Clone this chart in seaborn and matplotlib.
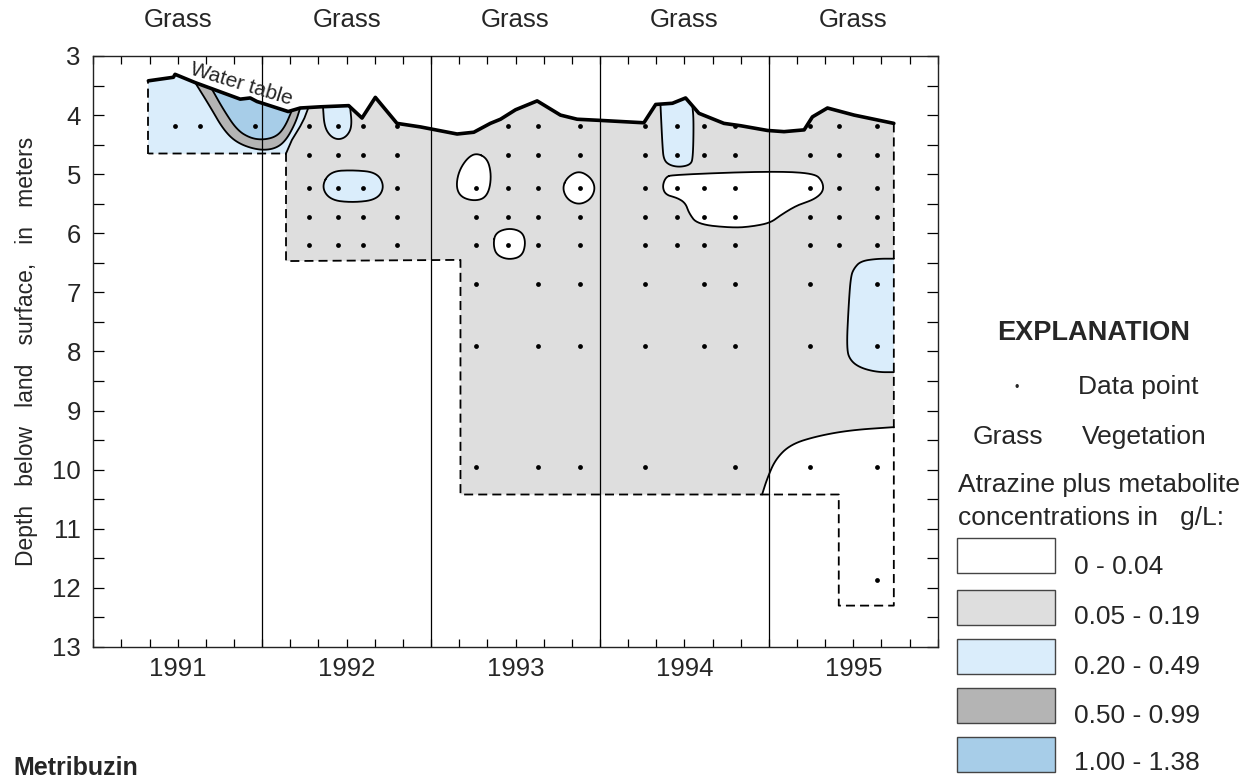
import numpy as np
import pandas as pd
import matplotlib
matplotlib.use("Agg")
import matplotlib.pyplot as plt
from matplotlib.patches import Rectangle
from matplotlib.ticker import MultipleLocator
import seaborn as sns

# ---------------------------------------------------------------- data
years = [1991, 1992, 1993, 1994, 1995]
vegetation = ["Grass", "Grass", "Grass", "Grass", "Grass"]

# sampling depths (m) and, per sampling column (decimal year), the rows sampled
row_depths = [4.19, 4.67, 5.24, 5.72, 6.19, 6.86, 7.90, 9.95, 11.87]
sample_columns = [
    (1991.484, [0]), (1991.632, [0]), (1991.958, [0]),
    (1992.279, [0, 1, 2, 3, 4]), (1992.451, [0, 1, 2, 3, 4]),
    (1992.599, [0, 1, 2, 3, 4]), (1992.800, [0, 1, 2, 3, 4]),
    (1993.267, [2, 3, 4, 5, 6, 7]), (1993.456, [0, 1, 2, 3, 4]),
    (1993.634, [0, 1, 2, 3, 4, 5, 6, 7]), (1993.881, [0, 1, 2, 3, 4, 5, 6, 7]),
    (1994.266, [0, 1, 2, 3, 4, 5, 6, 7]), (1994.458, [0, 1, 2, 3, 4]),
    (1994.618, [0, 1, 2, 3, 4, 5, 6]), (1994.800, [0, 1, 2, 3, 4, 5, 6, 7]),
    (1995.242, [0, 1, 2, 3, 4, 5, 6, 7]), (1995.414, [0, 1, 2, 3, 4]),
    (1995.640, [0, 1, 2, 3, 4, 5, 6, 7, 8]),
]

# water table depth through time
wt_year = [1991.326, 1991.474, 1991.484, 1991.603, 1991.870, 1991.929, 1991.969,
           1992.154, 1992.225, 1992.344, 1992.512, 1992.591, 1992.670, 1992.798,
           1992.937, 1993.154, 1993.253, 1993.351, 1993.411, 1993.500, 1993.628,
           1993.766, 1993.865, 1994.004, 1994.260, 1994.330, 1994.429, 1994.507,
           1994.586, 1994.734, 1994.833, 1994.992, 1995.090, 1995.209, 1995.258,
           1995.347, 1995.505, 1995.740]
wt_depth = [3.42, 3.36, 3.31, 3.45, 3.73, 3.71, 3.77,
            3.94, 3.88, 3.86, 3.84, 4.05, 3.70, 4.14,
            4.20, 4.32, 4.29, 4.14, 4.07, 3.91, 3.76,
            4.00, 4.07, 4.09, 4.13, 3.82, 3.80, 3.71,
            3.97, 4.14, 4.18, 4.26, 4.28, 4.25, 4.03,
            3.88, 4.00, 4.14]

# limits of the sampled section (below the water table), from the right end of
# the water table round to its left end
sampled_year = [1995.740, 1995.740, 1995.414, 1995.414, 1993.174, 1993.174, 1992.141, 1992.141, 1991.326]
sampled_depth = [4.14, 12.30, 12.30, 10.42, 10.42, 6.45, 6.47, 4.65, 4.65]

# concentration contours (decimal year, depth)
blue91_edge_year = [1992.274, 1992.250, 1992.225, 1992.176, 1992.141]
blue91_edge_depth = [3.87, 4.05, 4.19, 4.42, 4.65]

mid91_year = [1991.603, 1991.692, 1991.771, 1991.850, 1991.969, 1992.067, 1992.136, 1992.196, 1992.225]
mid91_depth = [3.45, 3.86, 4.25, 4.47, 4.59, 4.58, 4.45, 4.14, 3.88]

high91_year = [1991.702, 1991.771, 1991.850, 1991.929, 1992.008, 1992.087, 1992.136, 1992.176]
high91_depth = [3.56, 3.91, 4.25, 4.39, 4.42, 4.36, 4.19, 3.92]

cap92_year = [1992.360, 1992.368, 1992.403, 1992.452, 1992.502, 1992.532, 1992.520]
cap92_depth = [3.86, 4.19, 4.36, 4.42, 4.36, 4.19, 3.85]

lens92_year = [1992.350, 1992.403, 1992.541, 1992.680, 1992.725, 1992.680, 1992.541, 1992.403]
lens92_depth = [5.21, 4.95, 4.93, 4.97, 5.21, 5.43, 5.48, 5.44]

low93a_year = [1993.267, 1993.332, 1993.356, 1993.347, 1993.312, 1993.243, 1993.174, 1993.148, 1993.164, 1993.213]
low93a_depth = [4.64, 4.73, 4.98, 5.26, 5.42, 5.45, 5.38, 5.21, 4.95, 4.73]

low93b_year = [1993.777, 1993.806, 1993.875, 1993.945, 1993.974, 1993.945, 1993.875, 1993.806]
low93b_depth = [5.235, 5.05, 4.94, 5.05, 5.235, 5.43, 5.52, 5.43]

low93c_year = [1993.368, 1993.381, 1993.460, 1993.539, 1993.561, 1993.539, 1993.460, 1993.387]
low93c_depth = [6.19, 5.99, 5.91, 5.97, 6.16, 6.39, 6.45, 6.37]

cap94_year = [1994.358, 1994.370, 1994.378, 1994.414, 1994.473, 1994.535, 1994.551, 1994.555, 1994.547]
cap94_depth = [3.81, 4.53, 4.76, 4.85, 4.88, 4.84, 4.73, 4.08, 3.84]

low94_year = [1994.389, 1994.429, 1994.992, 1995.268, 1995.318, 1995.324, 1995.268, 1995.170, 1995.071,
              1995.011, 1994.912, 1994.794, 1994.577, 1994.527, 1994.507, 1994.458, 1994.389, 1994.369]
low94_depth = [5.05, 5.01, 4.95, 4.98, 5.12, 5.29, 5.43, 5.52, 5.69,
               5.82, 5.88, 5.91, 5.85, 5.66, 5.49, 5.40, 5.35, 5.21]

blue95_year = [1995.740, 1995.644, 1995.545, 1995.505, 1995.485, 1995.472, 1995.460, 1995.485, 1995.545, 1995.644, 1995.740]
blue95_depth = [6.43, 6.43, 6.47, 6.59, 6.73, 7.24, 7.97, 8.16, 8.28, 8.35, 8.35]

low95_year = [1994.960, 1994.990, 1995.040, 1995.130, 1995.288, 1995.485, 1995.740]
low95_depth = [10.42, 10.15, 9.82, 9.57, 9.43, 9.33, 9.28]
low95_tail_year = [1995.740, 1995.414, 1995.414]
low95_tail_depth = [12.30, 12.30, 10.42]

class_labels = ["0 - 0.04", "0.05 - 0.19", "0.20 - 0.49", "0.50 - 0.99", "1.00 - 1.38"]
class_colors = ["#FFFFFF", "#DEDEDE", "#DAEDFB", "#B4B4B4", "#A7CDE8"]

# ---------------------------------------------------------------- helpers
def chaikin(x, y, n=4, closed=True):
    """Corner-cutting smoothing of a contour outline."""
    p = np.column_stack([x, y]).astype(float)
    for _ in range(n):
        if closed:
            q = np.roll(p, -1, axis=0)
            r = np.empty((2 * len(p), 2))
            r[0::2] = 0.75 * p + 0.25 * q
            r[1::2] = 0.25 * p + 0.75 * q
            p = r
        else:
            a, b = p[:-1], p[1:]
            r = np.empty((2 * len(a), 2))
            r[0::2] = 0.75 * a + 0.25 * b
            r[1::2] = 0.25 * a + 0.75 * b
            p = np.vstack([p[:1], r, p[-1:]])
    return p


def water_table_between(x0, x1):
    """Vertices of the water table between two dates, in the given direction."""
    wx, wy = np.asarray(wt_year), np.asarray(wt_depth)
    lo, hi = min(x0, x1), max(x0, x1)
    xs = np.concatenate([[lo], wx[(wx > lo) & (wx < hi)], [hi]])
    pts = np.column_stack([xs, np.interp(xs, wx, wy)])
    return pts if x0 <= x1 else pts[::-1]


# ---------------------------------------------------------------- figure
sns.set_theme(style="white")
plt.rcParams["font.family"] = ["Liberation Sans", "DejaVu Sans"]

fig = plt.figure(figsize=(12.56, 7.81), dpi=100)
ax = fig.add_axes([0.0743, 0.1716, 0.6723, 0.7567])

WHITE, LOW, MIDBLUE, DARK, HIGH = class_colors
EDGE = dict(color="black", lw=1.3, solid_capstyle="round", zorder=6)
DASH = dict(color="black", lw=1.3, ls=(0, (5, 2.8)), zorder=6)

# whole sampled section
section = np.vstack([water_table_between(wt_year[0], wt_year[-1]),
                     np.column_stack([sampled_year[1:], sampled_depth[1:]])])
ax.fill(section[:, 0], section[:, 1], color=LOW, lw=0, zorder=1)

# 1991 plume
blue91 = np.vstack([water_table_between(wt_year[0], blue91_edge_year[0]),
                    np.column_stack([blue91_edge_year, blue91_edge_depth]),
                    [[sampled_year[-1], sampled_depth[-1]]]])
ax.fill(blue91[:, 0], blue91[:, 1], color=MIDBLUE, lw=0, zorder=2)
ax.plot(blue91_edge_year, blue91_edge_depth, **EDGE)

# contours that close against the water table
for xs, ys, col, z in [(mid91_year, mid91_depth, DARK, 3), (high91_year, high91_depth, HIGH, 4),
                       (cap92_year, cap92_depth, MIDBLUE, 3), (cap94_year, cap94_depth, MIDBLUE, 3)]:
    curve = chaikin(xs, ys, n=3, closed=False)
    poly = np.vstack([curve, water_table_between(xs[-1], xs[0])])
    ax.fill(poly[:, 0], poly[:, 1], color=col, lw=0, zorder=z)
    ax.plot(curve[:, 0], curve[:, 1], **EDGE)

# closed contours inside the section
for xs, ys, col in [(lens92_year, lens92_depth, MIDBLUE), (low93a_year, low93a_depth, WHITE),
                    (low93b_year, low93b_depth, WHITE), (low93c_year, low93c_depth, WHITE),
                    (low94_year, low94_depth, WHITE)]:
    ring = chaikin(xs, ys, n=4, closed=True)
    ax.fill(ring[:, 0], ring[:, 1], color=col, lw=0, zorder=3)
    ax.plot(np.append(ring[:, 0], ring[0, 0]), np.append(ring[:, 1], ring[0, 1]), **EDGE)

# contours that close against the sampling limit
curve = chaikin(blue95_year, blue95_depth, n=3, closed=False)
ax.fill(curve[:, 0], curve[:, 1], color=MIDBLUE, lw=0, zorder=3)
ax.plot(curve[:, 0], curve[:, 1], **EDGE)

curve = chaikin(low95_year, low95_depth, n=3, closed=False)
poly = np.vstack([curve, np.column_stack([low95_tail_year, low95_tail_depth])])
ax.fill(poly[:, 0], poly[:, 1], color=WHITE, lw=0, zorder=3)
ax.plot(curve[:, 0], curve[:, 1], **EDGE)

# year boundaries
for yr in years[1:]:
    ax.axvline(yr, color="black", lw=0.9, zorder=5)

# dashed limit of sampling
ax.plot(sampled_year, sampled_depth, **DASH)
ax.plot([sampled_year[-1], wt_year[0]], [sampled_depth[-1], wt_depth[0]], **DASH)

# water table
sns.lineplot(x=wt_year, y=wt_depth, sort=False, estimator=None, color="black",
             lw=2.6, ax=ax, zorder=7)

# data points
points = pd.DataFrame([(x, row_depths[i]) for x, rows in sample_columns for i in rows],
                      columns=["year", "depth"])
sns.scatterplot(data=points, x="year", y="depth", color="black", s=12, lw=0, ax=ax, zorder=8)

# ---------------------------------------------------------------- axes
ax.set_xlim(years[0], years[-1] + 1)
ax.set_ylim(13, 3)
mid_years = [y + 0.5 for y in years]
ax.set_xticks(mid_years, [str(y) for y in years])
ax.xaxis.set_minor_locator(MultipleLocator(1 / 6))
ax.yaxis.set_major_locator(MultipleLocator(1))
ax.yaxis.set_minor_locator(MultipleLocator(0.5))
ax.tick_params(axis="x", which="both", direction="in", length=5.5, width=0.9,
               top=True, bottom=True, color="black", labelsize=18.5, pad=7)
ax.tick_params(axis="y", which="both", direction="in", length=8, width=0.9,
               left=True, right=True, color="black", labelsize=18.5, pad=9)
ax.set_xlabel("")
ax.set_ylabel("Depth   below   land   surface,   in   meters", fontsize=16.5)
ax.yaxis.set_label_coords(-0.066, 0.5)
for sp in ax.spines.values():
    sp.set_color("#222222")
    sp.set_linewidth(1.0)

top = ax.secondary_xaxis("top")
top.set_xticks(mid_years, vegetation)
top.tick_params(length=0, labelsize=18.5, pad=17)
top.spines["top"].set_visible(False)

ax.text(1991.876, 3.47, "Water table", rotation=-17, fontsize=15,
        ha="center", va="center", zorder=9)

# ---------------------------------------------------------------- explanation
W, H = 1256.0, 781.0
def fx(px):
    return px / W
def fy(py):
    return 1 - py / H

fig.text(fx(1094), fy(333), "EXPLANATION", fontsize=19.5, fontweight="bold", ha="center", va="center")
fig.text(fx(1017), fy(388), "\u2022", fontsize=9, ha="center", va="center")
fig.text(fx(1078), fy(387), "Data point", fontsize=19, ha="left", va="center")
fig.text(fx(973), fy(437), "Grass", fontsize=19, ha="left", va="center")
fig.text(fx(1082), fy(437), "Vegetation", fontsize=19, ha="left", va="center")
fig.text(fx(958), fy(485), "Atrazine plus metabolite", fontsize=19, ha="left", va="center")
fig.text(fx(958), fy(518), "concentrations in   g/L:", fontsize=19, ha="left", va="center")

box_tops = [538, 590, 639, 688, 737]
label_centers = [567, 617, 667, 716, 763]
for lab, col, btop, lc in zip(class_labels, class_colors, box_tops, label_centers):
    fig.patches.append(Rectangle((fx(957), fy(btop + 35)), 98 / W, 35 / H,
                                 transform=fig.transFigure, facecolor=col,
                                 edgecolor="#444444", lw=1.0))
    fig.text(fx(1074), fy(lc), lab, fontsize=19, ha="left", va="center")

fig.text(fx(13), fy(780), "Metribuzin", fontsize=18, fontweight="bold", ha="left", va="bottom")

fig.savefig("out.png", dpi=100)
